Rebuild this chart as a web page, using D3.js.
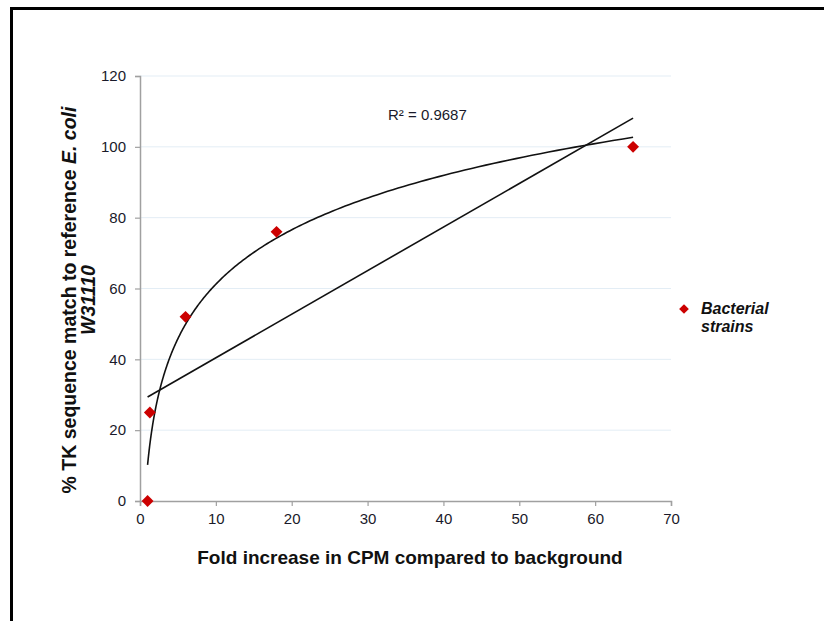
<!DOCTYPE html>
<html><head><meta charset="utf-8">
<script src="https://cdn.jsdelivr.net/npm/d3@7/dist/d3.min.js"></script>
<style>
body{margin:0;background:#fff;}
svg{display:block;font-family:"Liberation Sans",Arial,sans-serif;}
</style></head>
<body>
<svg id="c" width="824" height="621"></svg>
<script>
// Data
const foldIncrease = [1, 1.3, 6, 18, 65];
const tkMatch = [0, 25, 52, 76, 100];
const xTicks = [0, 10, 20, 30, 40, 50, 60, 70];
const yTicks = [0, 20, 40, 60, 80, 100, 120];
const seriesName = ["Bacterial", "strains"];
const r2Label = "R\u00B2 = 0.9687";

const svg = d3.select("#c");
// outer frame (extends beyond the picture right/bottom)
svg.append("path").attr("d","M11.5,700 L11.5,8.5 L900,8.5")
  .attr("fill","none").attr("stroke","#000").attr("stroke-width",3);

const x = d3.scaleLinear().domain([0,70]).range([140,671]);
const y = d3.scaleLinear().domain([0,120]).range([501,76]);

// gridlines
svg.append("g").selectAll("line").data(yTicks.filter(d=>d>0)).join("line")
  .attr("x1",x(0)).attr("x2",x(70)).attr("y1",d=>y(d)).attr("y2",d=>y(d))
  .attr("stroke","#e3edf5").attr("stroke-width",1);

const axisColor = "#a0a0a0";
const gx = svg.append("g").attr("transform",`translate(0,${y(0)})`)
  .call(d3.axisBottom(x).tickValues(xTicks).tickSize(5).tickPadding(7).tickFormat(d3.format("d")));
const gy = svg.append("g").attr("transform",`translate(${x(0)},0)`)
  .call(d3.axisLeft(y).tickValues(yTicks).tickSize(5).tickPadding(9).tickFormat(d3.format("d")));
[gx,gy].forEach(g=>{
  g.select(".domain").attr("stroke",axisColor).attr("stroke-width",1.5);
  g.selectAll(".tick line").attr("stroke",axisColor).attr("stroke-width",1.2);
  g.selectAll(".tick text").attr("fill","#1a1a2a").style("font-size","15px")
   .style("font-family","'Liberation Sans',Arial,sans-serif");
});

// regressions (Excel-style trendlines)
function linfit(xs, ys){
  const mx=d3.mean(xs), my=d3.mean(ys);
  let sxy=0,sxx=0;
  for(let i=0;i<xs.length;i++){sxy+=(xs[i]-mx)*(ys[i]-my);sxx+=(xs[i]-mx)**2;}
  const a=sxy/sxx; return {a, b: my-a*mx};
}
const lin = linfit(foldIncrease, tkMatch);
const lg = linfit(foldIncrease.map(Math.log), tkMatch);
const x0 = d3.min(foldIncrease), x1 = d3.max(foldIncrease);

const line = d3.line().x(d=>x(d[0])).y(d=>y(d[1]));
svg.append("path").attr("d", line([[x0, lin.a*x0+lin.b],[x1, lin.a*x1+lin.b]]))
  .attr("fill","none").attr("stroke","#111").attr("stroke-width",1.6);
const curvePts = d3.range(0,201).map(i=>{const xv = x0*Math.pow(x1/x0,i/200); return [xv, lg.a*Math.log(xv)+lg.b];});
svg.append("path").attr("d", d3.line().curve(d3.curveMonotoneX).x(d=>x(d[0])).y(d=>y(d[1]))(curvePts))
  .attr("fill","none").attr("stroke","#111").attr("stroke-width",1.6);

// markers
const diamond = d3.symbol().type(d3.symbolDiamond2).size(90);
svg.append("g").selectAll("path").data(foldIncrease).join("path")
  .attr("d", diamond)
  .attr("transform",(d,i)=>`translate(${x(d)},${y(tkMatch[i])})`)
  .attr("fill","#cc0000");

// R² label
svg.append("text").attr("x",388).attr("y",120).text(r2Label)
  .attr("fill","#1a1a2a").style("font-size","15px");

// legend
svg.append("path").attr("d", d3.symbol().type(d3.symbolDiamond2).size(60)())
  .attr("transform","translate(684,309)").attr("fill","#cc0000");
svg.append("g").selectAll("text").data(seriesName).join("text")
  .attr("x",701).attr("y",(d,i)=>314+i*18).text(d=>d)
  .attr("fill","#111").style("font-size","16px").style("font-weight","bold").style("font-style","italic");

// axis titles
svg.append("text").attr("x",410).attr("y",564).attr("text-anchor","middle")
  .text("Fold increase in CPM compared to background")
  .attr("fill","#111").style("font-size","19px").style("font-weight","bold");

const yt = svg.append("text").attr("transform","translate(76,300) rotate(-90)")
  .attr("text-anchor","middle").attr("fill","#111")
  .style("font-size","19.5px").style("font-weight","bold");
yt.append("tspan").attr("x",0).attr("y",0).text("% TK sequence match to reference ");
yt.append("tspan").style("font-style","italic").text("E. coli");
yt.append("tspan").attr("x",0).attr("y",19).style("font-style","italic").text("W31110");
</script>
</body></html>
